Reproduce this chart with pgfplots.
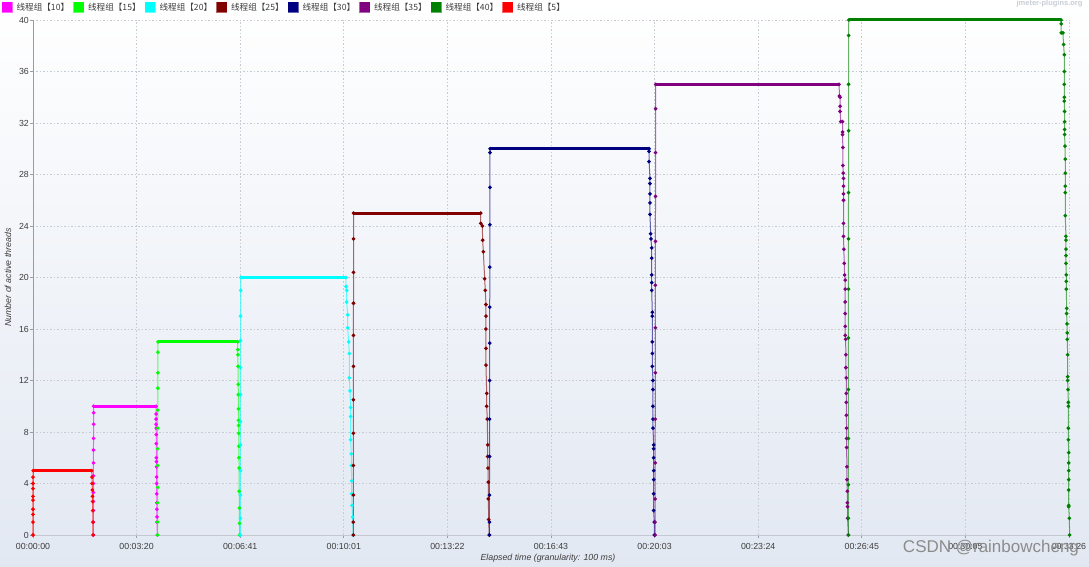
\documentclass[border=0pt]{standalone}
\usepackage{fontspec}
\setmainfont{Liberation Sans}
\newfontfamily\cjk{Noto Sans CJK SC}
\usepackage{pgfplots}
\pgfplotsset{compat=1.18}

\definecolor{bgbottom}{RGB}{226,232,242}
\definecolor{gridc}{RGB}{198,202,210}
\definecolor{txt}{RGB}{60,60,60}
\definecolor{c10}{RGB}{255,0,255}
\definecolor{c15}{RGB}{0,255,0}
\definecolor{c20}{RGB}{0,255,255}
\definecolor{c25}{RGB}{128,0,0}
\definecolor{c30}{RGB}{0,0,128}
\definecolor{c35}{RGB}{128,0,128}
\definecolor{c40}{RGB}{0,128,0}
\definecolor{c5}{RGB}{255,0,0}

\pgfplotsset{
  ser/.style={color=#1, line width=1pt, draw opacity=0.6, mark=*, mark size=1.3pt, mark options={solid, opacity=1}},
  flat/.style={color=#1, line width=3pt, forget plot, no marks},
}

\begin{document}
\begin{tikzpicture}
\path[use as bounding box] (-33pt,-32pt) rectangle (1056pt,535pt);
\shade[top color=white, bottom color=bgbottom] (-33pt,-32pt) rectangle (1056pt,535pt);
\begin{axis}[
    scale only axis,
    width=1037pt, height=515pt,
    xmin=0, xmax=2008, ymin=0, ymax=40,
    clip=false,
    axis x line*=bottom, axis y line*=left,
    x axis line style={-, draw={rgb,255:red,196;green,200;blue,208}, line width=0.8pt},
    y axis line style={-, draw={rgb,255:red,150;green,156;blue,168}, line width=0.8pt},
    xtick={0,200.6,401.2,601.8,802.4,1003,1203.6,1404.2,1604.8,1805.4,2006},
    xticklabels={00:00:00,00:03:20,00:06:41,00:10:01,00:13:22,00:16:43,00:20:03,00:23:24,00:26:45,00:30:05,00:33:26},
    ytick={0,4,...,40},
    tick align=outside, major tick length=3pt,
    tick style={draw={rgb,255:red,150;green,156;blue,168}, line width=0.6pt},
    grid=major,
    major grid style={draw=gridc, dash pattern=on 1.5pt off 2pt, line width=0.6pt},
    ticklabel style={font=\fontsize{8.8}{10}\selectfont, text=txt},
    xticklabel style={inner sep=0pt, yshift=-5pt},
    yticklabel style={inner sep=1pt},
    /pgf/number format/assume math mode=true,
    xlabel={\itshape Elapsed time (granularity: 100 ms)},
    ylabel={\itshape Number of active threads},
    label style={font=\fontsize{8.8}{10}\selectfont, text=txt},
    xlabel style={at={(axis description cs:0.4966,-0.045)}, anchor=center},
    ylabel style={at={(axis description cs:-0.0241,0.5)}, anchor=center, rotate=0},
    legend columns=-1,
    legend style={at={(-0.0299,1.035)}, anchor=north west, draw=none, fill=none,
      inner sep=0pt, outer sep=0pt, nodes={inner sep=0pt},
      font=\fontsize{8.6}{10}\selectfont, text=txt,
      /tikz/every even column/.append style={column sep=0pt}},
    legend image code/.code={\fill[#1] (0pt,-5pt) rectangle (10pt,5pt);},
]
% 线程组【10】
\addplot[ser=c10] coordinates {(116.8,0)(116.8,1)(116.8,1.9)(116.9,2.6)(116.9,3.3)(117,4)(117,4.6)(117.1,5.6)(117.1,6.6)(117.2,7.5)(117.3,8.6)(117.4,9.5)(117.6,10)(238.2,10)(238.3,9.4)(238.4,9)(238.5,8.6)(238.6,8.3)(238.7,7.8)(238.8,7.1)(239,6)(239.1,5.7)(239.2,5.3)(239.3,4.5)(239.5,4)(239.6,3.2)(239.8,2.5)(239.9,2)(240.1,1.4)(240.3,1)(240.7,0)};
\addlegendentry{\hspace{3.6pt}\makebox[56.9pt][l]{\cjk 线程组【10】}}
\addplot[flat=c10] coordinates {(117.6,10)(238.2,10)};
% 线程组【15】
\addplot[ser=c15] coordinates {(241.2,0)(241.3,1)(241.3,2.5)(241.4,3.7)(241.4,5.4)(241.5,6.7)(241.5,8.3)(241.6,9.7)(241.6,11.4)(241.7,12.6)(241.8,14.2)(242,15)(396.3,15)(396.5,14.4)(396.8,14)(397,13.1)(397.3,11.7)(397.6,10.9)(397.8,9.8)(398,8.9)(398.2,8.5)(398.4,7.9)(398.6,6.9)(398.8,6)(399,5.2)(399.3,3.4)(399.6,2.1)(399.9,0.9)(400.2,0)};
\addlegendentry{\hspace{3.6pt}\makebox[56.9pt][l]{\cjk 线程组【15】}}
\addplot[flat=c15] coordinates {(242,15)(396.3,15)};
% 线程组【20】
\addplot[ser=c20] coordinates {(401.5,0)(401.5,1.3)(401.6,3.1)(401.6,5)(401.7,7)(401.7,8.8)(401.8,10.9)(401.8,13)(401.9,15.1)(402,17)(402.1,19)(402.3,20)(606,20)(606.1,19.3)(607.4,19)(607.4,18.1)(609.3,17.1)(609.3,16.1)(611.2,15)(612.5,14.1)(612.5,12.2)(613.8,11.2)(615.1,9.9)(615.1,9.2)(615.1,7.4)(616.4,6.3)(616.4,5.4)(617.1,4.2)(617.1,3.2)(617.7,2.3)(619,1.4)(620,0)};
\addlegendentry{\hspace{3.6pt}\makebox[56.9pt][l]{\cjk 线程组【20】}}
\addplot[flat=c20] coordinates {(402.3,20)(606,20)};
% 线程组【25】
\addplot[ser=c25] coordinates {(620.2,0)(620.2,1)(620.3,3.1)(620.3,5.4)(620.4,7.9)(620.4,10.5)(620.5,13.1)(620.5,15.5)(620.6,18)(620.6,20.4)(620.7,23)(620.8,25)(866.8,25)(867,24.2)(870,24)(870.7,22.9)(872,22)(874.6,19.9)(875.8,19)(877.1,17.9)(877.1,17)(877.1,16)(877.1,14.5)(877.1,13.2)(878.5,11)(878.5,10)(879.7,9)(880.4,7)(880.4,6.1)(881,5.2)(881.6,4.1)(881.6,2.8)(882.4,1.2)(883.5,0)};
\addlegendentry{\hspace{3.6pt}\makebox[56.9pt][l]{\cjk 线程组【25】}}
\addplot[flat=c25] coordinates {(620.8,25)(866.8,25)};
% 线程组【30】
\addplot[ser=c30] coordinates {(883.7,0)(883.8,1)(883.9,3.1)(884,6.1)(884.1,9)(884.2,12)(884.3,14.9)(884.4,17.7)(884.5,20.8)(884.6,24.1)(884.7,27)(884.8,29.7)(885,30)(1192.8,30)(1192.9,29.8)(1193,29)(1194.7,27.7)(1194.7,27.3)(1194.7,26.5)(1194.7,25.8)(1194.7,24.9)(1196,23.4)(1196.6,23)(1198,22.3)(1198,21.5)(1198,20.2)(1198,19.6)(1198,19)(1199.2,17.3)(1199.2,17)(1199.2,15)(1199.2,14.1)(1199.2,13.1)(1200.5,12)(1200.5,11.3)(1200.5,10)(1200.5,9)(1200.5,8.3)(1201.8,7)(1201.8,6.7)(1201.8,6)(1201.8,5)(1201.8,4.3)(1201.8,3.2)(1201.8,1.9)(1203,1)(1203,0)};
\addlegendentry{\hspace{3.6pt}\makebox[56.9pt][l]{\cjk 线程组【30】}}
\addplot[flat=c30] coordinates {(885,30)(1192.8,30)};
% 线程组【35】
\addplot[ser=c35] coordinates {(1204.5,0)(1204.6,1)(1204.7,2.8)(1204.8,5.6)(1204.9,9)(1205,12.6)(1205.1,16.1)(1205.2,19.4)(1205.3,22.8)(1205.4,26.3)(1205.5,29.7)(1205.6,33.1)(1205.8,35)(1560.9,35)(1561.5,34.1)(1562.8,34)(1562.8,33.3)(1562.8,32.9)(1564.1,32.1)(1567.5,32.1)(1567.5,31.3)(1567.5,31.1)(1568.2,30.1)(1568.2,28.7)(1568.9,28.1)(1569.4,27.7)(1569.4,27.1)(1569.4,26.5)(1569.4,26)(1569.4,24.2)(1569.4,23.2)(1570.1,22.2)(1570.8,21.1)(1571.5,20.2)(1572.7,19.8)(1572.7,19.1)(1572.7,18.1)(1572.7,17.2)(1572.7,16.2)(1572.7,15.5)(1573.5,15.2)(1574,14)(1574,13)(1574.8,12.2)(1574.8,11)(1574.8,10.3)(1574.8,9.3)(1575.4,8.3)(1575.4,7.5)(1575.4,6.8)(1576,5.3)(1576,4.3)(1576.8,3.4)(1576.8,2.5)(1577.3,2.2)(1577.3,1.3)(1579,0)};
\addlegendentry{\hspace{3.6pt}\makebox[56.9pt][l]{\cjk 线程组【35】}}
\addplot[flat=c35] coordinates {(1205.8,35)(1560.9,35)};
% 线程组【40】
\addplot[ser=c40] coordinates {(1578.7,0)(1578.7,1.3)(1578.8,3.9)(1578.8,7.5)(1578.9,11.3)(1578.9,15.3)(1579,19.1)(1579,23)(1579.1,26.6)(1579.2,31.4)(1579.3,35)(1579.4,38.8)(1579.6,40)(1990.9,40)(1990.9,39.7)(1990.9,39)(1994.2,39)(1995.5,38.1)(1996.9,37.3)(1996.9,36)(1996.9,35)(1996.9,34)(1996.9,33.7)(1997.5,32.9)(1997.5,32.1)(1997.5,31.5)(1997.5,31.1)(1998.2,30.2)(1998.8,29.2)(1998.8,28.1)(1998.8,27.1)(1998.8,26.6)(1998.8,24.8)(2000.1,23.2)(2000.1,22.9)(2000.1,22.2)(2000.1,21.7)(2000.1,21.1)(2000.8,20.2)(2000.8,19.7)(2000.8,19.1)(2001.5,17.6)(2001.5,17.2)(2002.1,16.4)(2002.7,15.7)(2002.7,15.2)(2003.4,14)(2003.4,12.3)(2003.4,12)(2004.1,11.3)(2004.8,10.3)(2004.8,10)(2004.8,8.3)(2004.8,7.4)(2005.4,6.4)(2005.4,5.6)(2005.4,5)(2005.4,4.3)(2005.4,3.5)(2005.4,2.3)(2005.4,2.2)(2006.7,1.3)(2007.3,0)};
\addlegendentry{\hspace{3.6pt}\makebox[56.9pt][l]{\cjk 线程组【40】}}
\addplot[flat=c40] coordinates {(1579.6,40)(1990.9,40)};
% 线程组【5】
\addplot[ser=c5] coordinates {(0,0)(0,1)(0,1.6)(0,2)(0,2.7)(0,3)(0,3.6)(0,4)(0,4.5)(0.3,5)(113.6,5)(114.2,4.5)(114.6,4)(114.9,3.5)(115.2,3)(115.4,2.6)(115.7,1.9)(116,1)(116.2,0)};
\addlegendentry{\hspace{3.6pt}\makebox[56.9pt][l]{\cjk 线程组【5】}}
\addplot[flat=c5] coordinates {(0.3,5)(113.6,5)};
% watermarks
\node[anchor=east, font=\bfseries\fontsize{7.5}{8}\selectfont, text={rgb,255:red,200;green,205;blue,214}] at (axis description cs:1.0154,1.031) {jmeter-plugins.org};
\node[anchor=center, font=\fontsize{17}{18}\selectfont, text={rgb,255:red,140;green,140;blue,140}] at (axis description cs:0.9238,-0.0252) {CSDN @rainbowcheng};
\end{axis}
\end{tikzpicture}
\end{document}
